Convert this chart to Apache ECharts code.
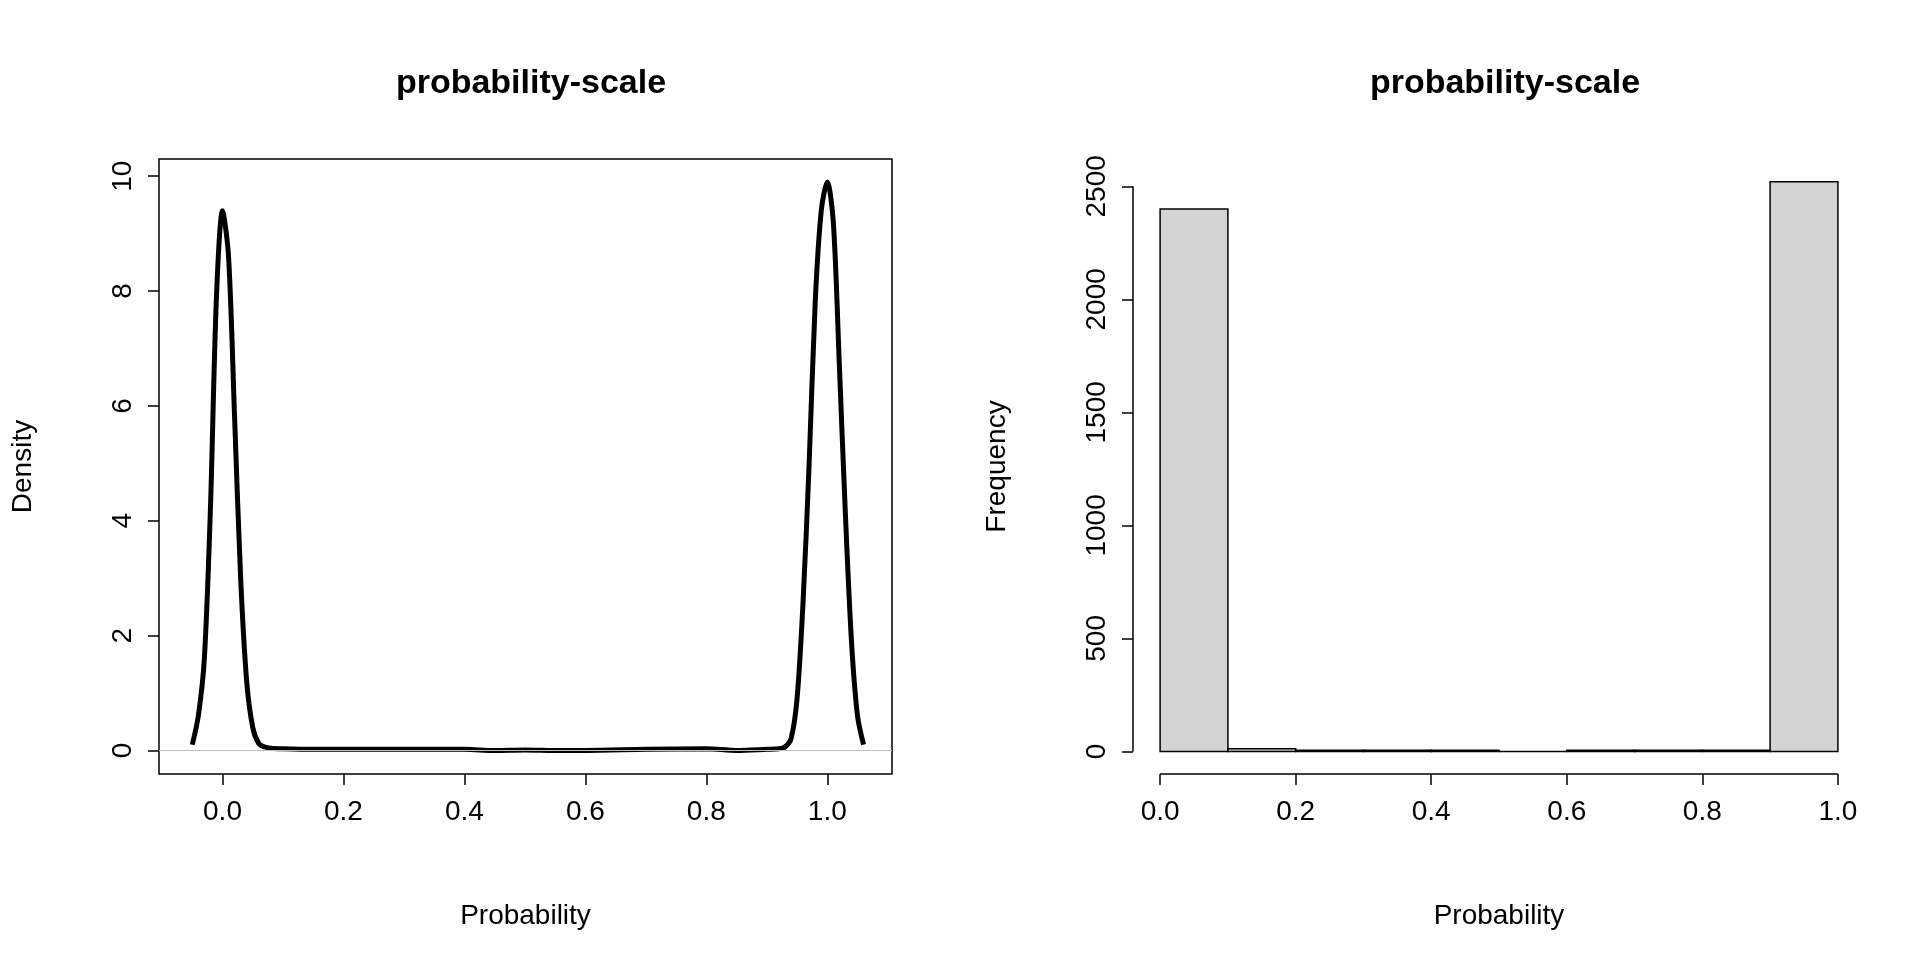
<!DOCTYPE html>
<html>
<head>
<meta charset="utf-8">
<script src="https://cdn.jsdelivr.net/npm/echarts@6/dist/echarts.min.js"></script>
<style>html,body{margin:0;background:#fff}#chart{width:1920px;height:960px}</style>
</head>
<body>
<div id="chart"></div>
<script>
// density curve
const densX = [-0.05,-0.04,-0.03,-0.02,-0.01,0,0.01,0.02,0.03,0.04,0.05,0.06,0.07,0.08,0.1,0.15,0.2,0.3,0.4,0.45,0.5,0.55,0.6,0.7,0.8,0.85,0.9,0.92,0.93,0.94,0.95,0.96,0.97,0.98,0.99,1.0,1.01,1.02,1.03,1.04,1.05,1.06];
const densY = [0.1,0.6,1.6,4.2,7.9,9.4,8.6,5.8,3.0,1.2,0.4,0.12,0.06,0.04,0.03,0.02,0.02,0.02,0.02,0.0,0.01,0.0,0.0,0.02,0.03,0.0,0.02,0.03,0.06,0.2,0.9,2.6,5.0,7.8,9.4,9.9,9.2,6.7,4.1,1.9,0.6,0.1];
const densTicks = [0,2,4,6,8,10];
const probTicks = [0,0.2,0.4,0.6,0.8,1.0];
// histogram bins: start, end, count
const binStart = [0,0.1,0.2,0.3,0.4,0.5,0.6,0.7,0.8,0.9];
const binEnd = [0.1,0.2,0.3,0.4,0.5,0.6,0.7,0.8,0.9,1.0];
const binCount = [2400,12,5,5,5,0,5,5,5,2520];
const freqTicks = [0,500,1000,1500,2000,2500];

const font = 'Liberation Sans, Arial, sans-serif';
const lab = {color:'#000', fontFamily:font, fontSize:28};
const chart = echarts.init(document.getElementById('chart'));
const fmt = v => v.toFixed(1);
const plain = v => String(v);
const tick = {show:true, length:11, inside:false, lineStyle:{color:'#000',width:1.5}};

chart.setOption({
  animation:false,
  title:[
    {text:'probability-scale', left:526, top:62, textAlign:'center', textStyle:{fontFamily:font,fontSize:34,fontWeight:'bold',color:'#000'}},
    {text:'probability-scale', left:1500, top:62, textAlign:'center', textStyle:{fontFamily:font,fontSize:34,fontWeight:'bold',color:'#000'}}
  ],
  grid:[
    {left:159, top:159, width:733, height:615, outerBoundsMode:'none', show:true, borderColor:'#000', borderWidth:1.5, backgroundColor:'transparent'},
    {left:1133, top:159, width:732, height:615, outerBoundsMode:'none', show:false}
  ],
  xAxis:[
    {type:'value', gridIndex:0, min:-0.105, max:1.107, splitLine:{show:false},
     axisLine:{show:false, onZero:false}, axisTick:Object.assign({customValues:probTicks}, tick),
     axisLabel:Object.assign({margin:24, formatter:fmt, customValues:probTicks}, lab),
     name:'Probability', nameLocation:'middle', nameGap:128, nameTextStyle:lab},
    {type:'value', gridIndex:1, min:-0.04, max:1.04, splitLine:{show:false},
     axisLine:{show:false, onZero:false}, axisTick:Object.assign({customValues:probTicks}, tick),
     axisLabel:Object.assign({margin:24, formatter:fmt, customValues:probTicks}, lab),
     name:'Probability', nameLocation:'middle', nameGap:128, nameTextStyle:lab}
  ],
  yAxis:[
    {type:'value', gridIndex:0, min:-0.41, max:10.3, splitLine:{show:false},
     axisLine:{show:false, onZero:false}, axisTick:Object.assign({customValues:densTicks}, tick),
     axisLabel:Object.assign({margin:22, rotate:90, formatter:plain, customValues:densTicks}, lab),
     name:'Density', nameLocation:'middle', nameGap:122, nameTextStyle:lab},
    {type:'value', gridIndex:1, min:-100, max:2621, splitLine:{show:false},
     axisLine:{show:false, onZero:false}, axisTick:Object.assign({customValues:freqTicks}, tick),
     axisLabel:Object.assign({margin:22, rotate:90, formatter:plain, customValues:freqTicks}, lab),
     name:'Frequency', nameLocation:'middle', nameGap:122, nameTextStyle:lab}
  ],
  series:[
    {type:'line', xAxisIndex:0, yAxisIndex:0, data:densX.map((x,i)=>[x,densY[i]]),
     showSymbol:false, smooth:0.3, lineStyle:{color:'#000', width:5},
     markLine:{silent:true, symbol:'none', label:{show:false}, lineStyle:{color:'#bebebe', width:1, type:'solid'}, data:[{yAxis:0}]}},
    {type:'custom', xAxisIndex:1, yAxisIndex:1,
     data:binStart.map((s,i)=>[s,binEnd[i],binCount[i]]),
     renderItem:(params, api)=>{
       const p0 = api.coord([api.value(0), 0]);
       const p1 = api.coord([api.value(1), api.value(2)]);
       return {type:'rect', shape:{x:p0[0], y:p1[1], width:p1[0]-p0[0], height:p0[1]-p1[1]},
               style:{fill:'#d3d3d3', stroke:'#000', lineWidth:1.5}};
     }}
  ]
});

// R style axis lines spanning only the tick range of the histogram
const a = chart.convertToPixel({xAxisIndex:1, yAxisIndex:1}, [-0.04, 0]);
const b = chart.convertToPixel({xAxisIndex:1, yAxisIndex:1}, [-0.04, 2500]);
const c = chart.convertToPixel({xAxisIndex:1, yAxisIndex:1}, [0, -100]);
const d = chart.convertToPixel({xAxisIndex:1, yAxisIndex:1}, [1, -100]);
chart.setOption({graphic:[
  {type:'line', shape:{x1:a[0], y1:a[1], x2:b[0], y2:b[1]}, style:{stroke:'#000', lineWidth:1.5}},
  {type:'line', shape:{x1:c[0], y1:c[1], x2:d[0], y2:d[1]}, style:{stroke:'#000', lineWidth:1.5}}
]});
</script>
</body>
</html>
